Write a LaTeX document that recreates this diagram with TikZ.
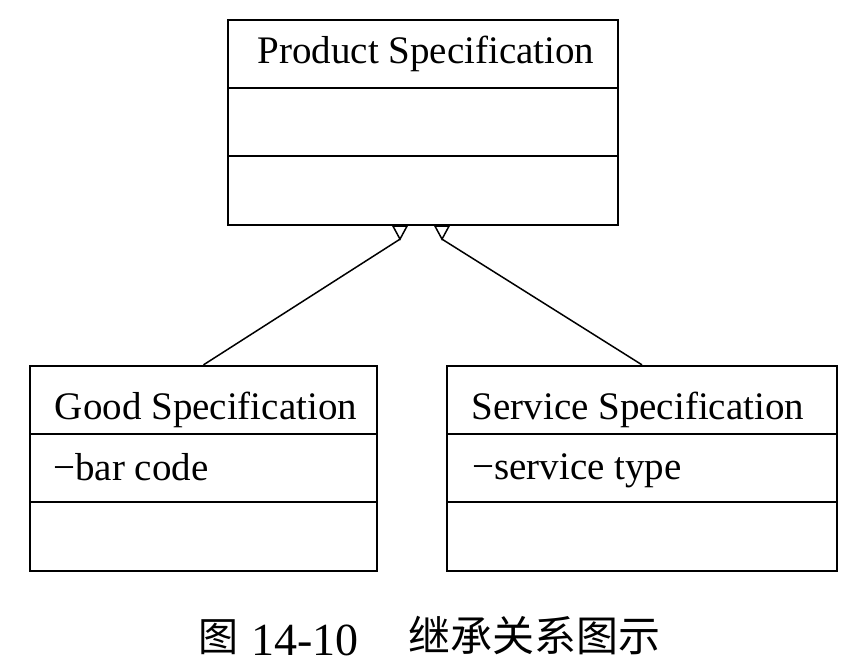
\documentclass[tikz,border=0pt]{standalone}
\usepackage{fontspec}
\setmainfont{Liberation Serif}
\newfontfamily\cjk{Noto Sans CJK SC}
\usetikzlibrary{calc}
\begin{document}
\begin{tikzpicture}[x=1pt,y=-1pt,
  comp/.style={draw,line width=2.3pt,inner sep=0pt,minimum width=#1},
  lbl/.style={inner sep=0pt,font=\fontsize{39}{47}\selectfont},
  conn/.style={line width=1.5pt},
  tri/.style={line width=1.5pt,fill=white,line join=miter}]
\fill[white] (0,0) rectangle (860,664);
\useasboundingbox (0,0) rectangle (860,664);
% Product Specification
\node[comp=390pt,minimum height=68pt] (ph) at (423,54) {};
\node[comp=390pt,minimum height=68pt] (pa) at (423,122) {};
\node[comp=390pt,minimum height=69pt] (pm) at (423,190.5) {};
\node[lbl,anchor=base] (pt) at (426,63) {Product Specification};
% Good Specification
\node[comp=347pt,minimum height=68pt] (gh) at (203.5,400) {};
\node[comp=347pt,minimum height=68pt] (ga) at (203.5,468) {};
\node[comp=347pt,minimum height=69pt] (gm) at (203.5,536.5) {};
\node[lbl,anchor=base] (gt) at (206,419) {Good Specification};
\node[lbl,anchor=base west] (gat) at (53,480) {−bar code};
% Service Specification
\node[comp=390pt,minimum height=68pt] (sh) at (642,400) {};
\node[comp=390pt,minimum height=68pt] (sa) at (642,468) {};
\node[comp=390pt,minimum height=69pt] (sm) at (642,536.5) {};
\node[lbl,anchor=base] (st) at (638,419) {Service Specification};
\node[lbl,anchor=base west] (sat) at (472,479) {−service type};
% generalization connectors
\coordinate (la) at ($(pm.south)+(-23,13)$);
\coordinate (ra) at ($(pm.south)+(19,13)$);
\draw[conn] (la) -- (gh.north);
\draw[conn] (ra) -- (sh.north);
\draw[tri] ($(pm.south)+(-30,0)$) -- ($(pm.south)+(-16,0)$) -- (la) -- cycle;
\draw[tri] ($(pm.south)+(12,0)$) -- ($(pm.south)+(26,0)$) -- (ra) -- cycle;
% caption
\node[inner sep=0pt,anchor=base west,font=\fontsize{46}{50}\selectfont] (cap) at (198,655)
  {\raisebox{4pt}{\cjk\fontsize{40}{44}\selectfont 图}\hspace{13pt}14-10\hspace{50pt}\raisebox{4pt}{\cjk\fontsize{42}{44}\selectfont 继承关系图示}};
\end{tikzpicture}
\end{document}
